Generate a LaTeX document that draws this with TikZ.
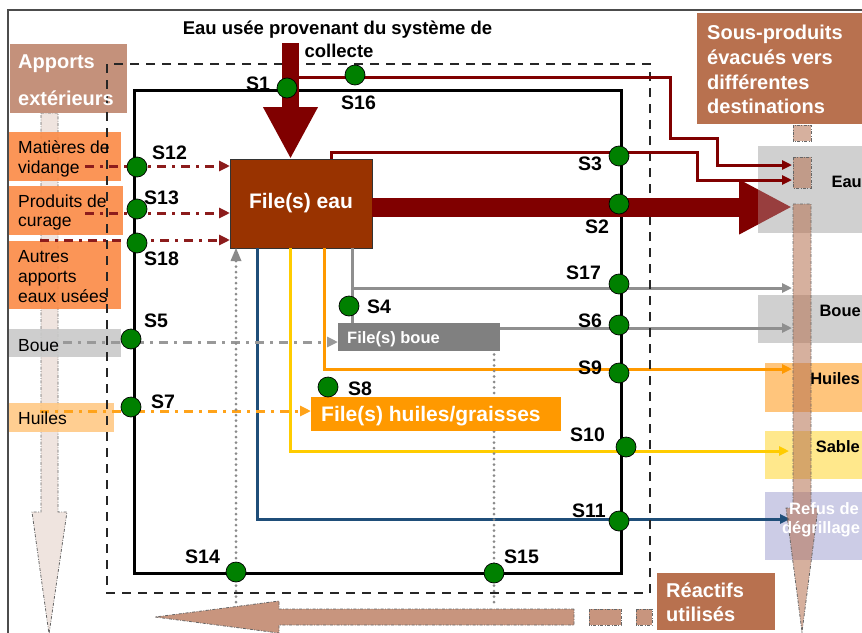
\documentclass[tikz,border=0pt]{standalone}
\usepackage{fontspec}
\setmainfont{Liberation Sans}
\usetikzlibrary{arrows.meta}
\definecolor{dred}{HTML}{800000}
\definecolor{ddredc}{HTML}{8C1C1C}
\definecolor{feaucol}{HTML}{993300}
\definecolor{sgreen}{HTML}{008000}
\definecolor{appcol}{HTML}{C4917B}
\definecolor{subcol}{HTML}{B8714F}
\definecolor{orgbox}{HTML}{FB8A45}
\definecolor{grayL}{HTML}{C9C9C9}
\definecolor{grayR}{HTML}{D0D0D0}
\definecolor{huileL}{HTML}{FFC986}
\definecolor{huileR}{HTML}{FFC57C}
\definecolor{sablec}{HTML}{FFE88C}
\definecolor{refusc}{HTML}{CCCCE6}
\definecolor{olinec}{HTML}{FF9900}
\definecolor{ylinec}{HTML}{FFCC00}
\definecolor{blinec}{HTML}{1F4E79}
\definecolor{glinec}{HTML}{8F8F8F}
\definecolor{fbouec}{HTML}{808080}
\definecolor{ddgrayc}{HTML}{999999}
\definecolor{dotgrayc}{HTML}{8A8A8A}
\definecolor{ddorc}{HTML}{FFA31A}
\definecolor{lightarr}{HTML}{EFE4DF}
\definecolor{tanbase}{HTML}{B5704F}
\definecolor{botfill}{HTML}{C8957E}
\begin{document}
\begin{tikzpicture}[x=1pt,y=-1pt,
  bx/.style={inner sep=0pt,outer sep=0pt,anchor=north west,draw=none},
  spt/.style={circle,fill=sgreen,draw=black,line width=0.7pt,minimum size=20pt,inner sep=0pt},
  slab/.style={font=\fontsize{19.5}{20}\selectfont\bfseries,inner sep=0pt,anchor=base west},
  ltxt/.style={font=\fontsize{17.5}{20}\selectfont,inner sep=0pt,anchor=base west},
  rtxt/.style={font=\fontsize{16.5}{20}\selectfont\bfseries,inner sep=0pt,anchor=base east},
  wtxt/.style={font=\fontsize{20}{20}\selectfont\bfseries,text=white,inner sep=0pt,anchor=base west},
  ttl/.style={font=\fontsize{18.5}{20}\selectfont\bfseries,inner sep=0pt,anchor=base},
  tipS/.style={-{Triangle[length=10pt,width=9pt]}},
  tipR/.style={-{Triangle[length=11pt,width=10pt]}},
  ddline/.style={line width=3pt,dash pattern=on 9pt off 6pt on 3pt off 6pt},
  dotline/.style={draw=dotgrayc,line width=3pt,line cap=round,dash pattern=on 0pt off 5.5pt},
  cline/.style={line width=3pt},
  ddborder/.style={draw=black!60,line width=0.8pt,dash pattern=on 3pt off 1.5pt on 0.8pt off 1.5pt},
]
\useasboundingbox (0,0) rectangle (862,632);
\clip (0,0) rectangle (862,632);
\fill[white] (0,0) rectangle (862,632);
\draw[line width=2pt,black!70] (8,10) rectangle (880,650);

% left big arrow (apports)
\filldraw[ddborder,fill=lightarr] (41,113) -- (58,113) -- (58,512) -- (67,512) -- (49,634) -- (32,512) -- (41,512) -- cycle;

% left boxes
\node[bx,fill=appcol,minimum width=117pt,minimum height=69pt] (bapp) at (10,44) {};
\node[bx,fill=orgbox,fill opacity=0.9,minimum width=112pt,minimum height=49pt] (bmat) at (9,132) {};
\node[bx,fill=orgbox,fill opacity=0.9,minimum width=114pt,minimum height=49pt] (bpro) at (9,186) {};
\node[bx,fill=orgbox,fill opacity=0.9,minimum width=112pt,minimum height=68pt] (baut) at (9,241) {};
\node[bx,fill=grayL,fill opacity=0.9,minimum width=112pt,minimum height=28pt] (bbou) at (9,329) {};
\node[bx,fill=huileL,fill opacity=0.9,minimum width=105pt,minimum height=29pt] (bhui) at (9,403) {};

% right boxes
\node[bx,fill=grayR,minimum width=112pt,minimum height=87pt] (deau) at (758,146) {};
\node[bx,fill=grayR,minimum width=112pt,minimum height=48pt] (dbou) at (758,295) {};
\node[bx,fill=huileR,minimum width=105pt,minimum height=49pt] (dhui) at (765,363) {};
\node[bx,fill=sablec,minimum width=105pt,minimum height=48pt] (dsab) at (765,431) {};
\node[bx,fill=refusc,minimum width=105pt,minimum height=68pt] (dref) at (765,492) {};
\node[bx,fill=subcol,minimum width=173pt,minimum height=111pt] (bsub) at (697,13) {};
\node[bx,fill=subcol,minimum width=118pt,minimum height=57pt] (brea) at (657,573) {};

% solid frame
\draw[line width=3pt] (134,90) rectangle (621,573);

% process boxes (positions)
\node[bx,fill=feaucol,draw=black!80,line width=0.8pt,minimum width=142pt,minimum height=89pt,
      font=\fontsize{21}{21}\selectfont\bfseries,text=white] (feau) at (230,159) {File(s) eau};
\node[bx,minimum width=162pt,minimum height=28pt] (fbouepos) at (338,323) {};
\node[bx,minimum width=250pt,minimum height=34pt] (fhuilepos) at (311,397) {};

% corner coordinates
\coordinate (cb) at (257,519); \coordinate (eb) at (790,519);
\coordinate (cy) at (290,451); \coordinate (ey) at (789,451);
\coordinate (co) at (324,369); \coordinate (eo) at (792,369);
\coordinate (cg) at (352,288); \coordinate (eg) at (792,288);
\coordinate (e6) at (792,328);

% coloured connectors
\draw[cline,draw=blinec,tipS] (feau.south -| cb) -- (cb) -- (eb);
\draw[cline,draw=ylinec,tipS] (feau.south -| cy) -- (cy) -- (ey);
\draw[cline,draw=olinec,tipS] (feau.south -| co) -- (co) -- (eo);
\draw[cline,draw=glinec] (feau.south -| cg) -- (fbouepos.north -| cg);
\draw[cline,draw=glinec,tipS] (cg) -- (eg);
\draw[cline,draw=glinec,tipS] (fbouepos.east |- e6) -- (e6);

% dash-dot inputs
\coordinate (a12) at (85,166);
\coordinate (a13) at (85,213);
\coordinate (a18) at (40,240);
\coordinate (a5) at (63,342);
\coordinate (a7) at (40,411);
\draw[ddline,draw=ddredc,tipR] (a12) -- (a12 -| feau.west);
\draw[ddline,draw=ddredc,tipR] (a13) -- (a13 -| feau.west);
\draw[ddline,draw=ddredc,tipR] (a18) -- (a18 -| feau.west);
\draw[ddline,draw=ddgrayc,tipR] (a5) -- (a5 -| fbouepos.west);
\draw[ddline,draw=ddorc,tipR] (a7) -- (a7 -| fhuilepos.west);

% dotted (reactifs)
\coordinate (d14) at (236,602);
\coordinate (d15) at (494,602);
\draw[dotline] (d15) -- (d15 |- fbouepos.south);
\draw[dotline] (d14) -- ([yshift=-12pt]d14 |- feau.south);
\draw[draw=none,fill=dotgrayc] (d14 |- feau.south) -- ++(-5.5,13) -- ++(11,0) -- cycle;

% filled process boxes
\node[bx,fill=fbouec,minimum width=162pt,minimum height=28pt] (fboue) at (338,323) {};
\node[bx,fill=olinec,minimum width=250pt,minimum height=34pt] (fhuile) at (311,397) {};

% dashed boundary
\draw[line width=2.3pt,dash pattern=on 9pt off 7pt,black!85] (107,64) rectangle (650,593);

% big red arrows
\coordinate (tstart) at (290.5,43);
\coordinate (mend) at (792,207);
\draw[dred,line width=17pt,-{Triangle[length=52pt,width=51pt]}] (tstart) -- (feau.north -| tstart);
\draw[dred,line width=19pt,-{Triangle[length=53pt,width=51pt]}] (feau.east |- mend) -- (mend);
\fill[grayR,fill opacity=0.3] (758,146) rectangle (870,233);

% thin red outputs
\coordinate (r3a) at (331,152); \coordinate (r3b) at (697,152);
\coordinate (r3c) at (697,180); \coordinate (e3) at (792,180);
\draw[cline,draw=dred,tipS] (feau.north -| r3a) -- (r3a) -- (r3b) -- (r3c) -- (e3);
\coordinate (r16a) at (299,77); \coordinate (r16b) at (670,77);
\coordinate (r16c) at (670,138); \coordinate (r16d) at (717,138);
\coordinate (r16e) at (717,165); \coordinate (e16) at (792,165);
\draw[cline,draw=dred,tipS] (r16a) -- (r16b) -- (r16c) -- (r16d) -- (r16e) -- (e16);

% right tan arrow (sous-produits)
\filldraw[ddborder,fill=tanbase,fill opacity=0.55] (793,125) rectangle (811,141);
\filldraw[ddborder,fill=tanbase,fill opacity=0.55] (793,157) rectangle (811,188);
\filldraw[ddborder,fill=tanbase,fill opacity=0.55] (793,204) -- (811,204) -- (811,508) -- (818,508) -- (802,632) -- (786,508) -- (793,508) -- cycle;

% bottom arrow (reactifs)
\filldraw[ddborder,fill=botfill] (574,609) -- (279,609) -- (279,601) -- (155,617) -- (279,633) -- (279,625) -- (574,625) -- cycle;
\filldraw[ddborder,fill=botfill] (589,609) rectangle (621,625);
\filldraw[ddborder,fill=botfill] (636,609) rectangle (652,625);

% sampling points
\node[spt] (s1) at (287,88) {};
\node[spt] (s16) at (355,75) {};
\node[spt] (s12) at (137,167) {};
\node[spt] (s13) at (137,209) {};
\node[spt] (s18) at (137,243) {};
\node[spt] (s5) at (131,339) {};
\node[spt] (s7) at (131,407) {};
\node[spt] (s3) at (619,156) {};
\node[spt] (s2) at (619,204) {};
\node[spt] (s17) at (619,284) {};
\node[spt] (s6) at (619,325) {};
\node[spt] (s9) at (619,373) {};
\node[spt] (s10) at (626,447) {};
\node[spt] (s11) at (619,521) {};
\node[spt] (s15) at (494,573) {};
\node[spt] (s14) at (236,572) {};
\node[spt] (s4) at (349,306) {};
\node[spt] (s8) at (328,387) {};

% sampling labels
\node[slab] (l1) at (246,90) {S1};
\node[slab] (l16) at (341,109) {S16};
\node[slab] (l12) at (152,159) {S12};
\node[slab] (l13) at (144,204) {S13};
\node[slab] (l18) at (144,265) {S18};
\node[slab] (l5) at (144,327) {S5};
\node[slab] (l7) at (151,408) {S7};
\node[slab] (l3) at (578,170) {S3};
\node[slab] (l2) at (585,233) {S2};
\node[slab] (l17) at (566,279) {S17};
\node[slab] (l6) at (578,327) {S6};
\node[slab] (l9) at (578,374) {S9};
\node[slab] (l10) at (570,441) {S10};
\node[slab] (l11) at (572,517) {S11};
\node[slab] (l15) at (504,563) {S15};
\node[slab] (l14) at (185,563) {S14};
\node[slab] (l4) at (367,313) {S4};
\node[slab] (l8) at (348,395) {S8};

% texts
\node[ttl] (t1) at (337.5,34.5) {Eau usée provenant du système de};
\node[ttl] (t2) at (339,57) {collecte};
\node[wtxt] (tapp1) at (18,68) {Apports};
\node[wtxt] (tapp2) at (18,105) {extérieurs};
\node[wtxt] (tsub1) at (707,39) {Sous-produits};
\node[wtxt] (tsub2) at (707,64) {évacués vers};
\node[wtxt] (tsub3) at (707,89) {différentes};
\node[wtxt] (tsub4) at (707,113) {destinations};
\node[wtxt] (trea1) at (666,597) {Réactifs};
\node[wtxt] (trea2) at (666,621) {utilisés};
\node[wtxt,font=\fontsize{16.5}{20}\selectfont\bfseries] (tfb) at (347,343) {File(s) boue};
\node[wtxt,font=\fontsize{21}{21}\selectfont\bfseries] (tfh) at (321,421) {File(s) huiles/graisses};

\node[ltxt] (tm1) at (18,153) {Matières de};
\node[ltxt] (tm2) at (18,173) {vidange};
\node[ltxt] (tp1) at (18,207) {Produits de};
\node[ltxt] (tp2) at (18,226) {curage};
\node[ltxt] (ta1) at (18,262) {Autres};
\node[ltxt] (ta2) at (18,282) {apports};
\node[ltxt] (ta3) at (18,302) {eaux usées};
\node[ltxt] (tb) at (18,351) {Boue};
\node[ltxt] (th) at (18,424) {Huiles};

\node[rtxt] (re) at (862,187) {Eau};
\node[rtxt] (rb) at (861,316) {Boue};
\node[rtxt] (rh) at (860,384) {Huiles};
\node[rtxt] (rs) at (860,452) {Sable};
\node[rtxt,anchor=base,text=white] (rr1) at (824,514) {Refus de};
\node[rtxt,anchor=base,text=white] (rr2) at (821,533) {dégrillage};
\end{tikzpicture}
\end{document}
